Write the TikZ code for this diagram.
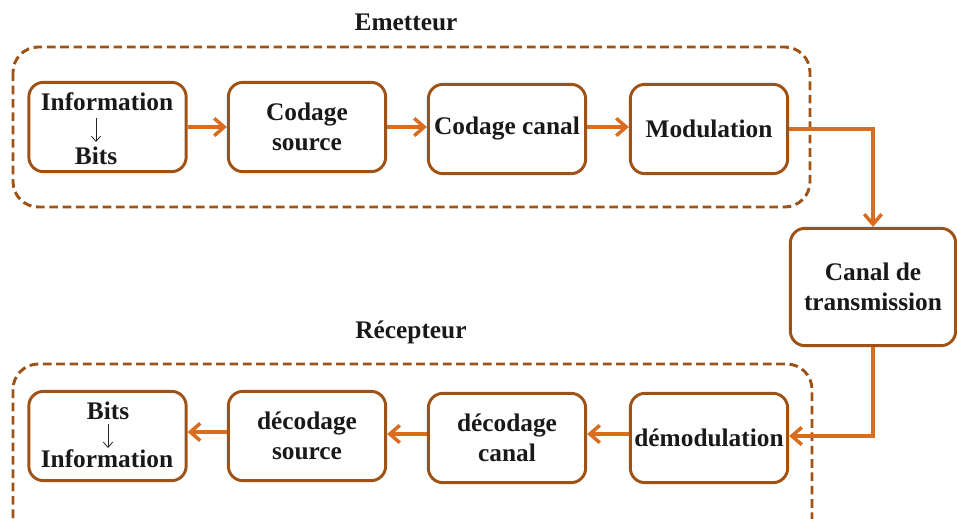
\documentclass[tikz,border=0pt]{standalone}
\usepackage{fontspec}
\setmainfont{Liberation Serif}
\usetikzlibrary{arrows.meta}
\definecolor{boxbrown}{RGB}{158,82,22}
\definecolor{arrorange}{RGB}{218,108,30}
\tikzset{
  blk/.style={draw=boxbrown, line width=2.2pt, rounded corners=11pt, minimum width=118pt, minimum height=67pt, align=center, inner sep=1pt, font=\fontsize{19}{22.5}\selectfont\bfseries, text=black!90},
  grp/.style={draw=boxbrown, line width=2.2pt, dash pattern=on 6.5pt off 3.5pt, rounded corners=19pt},
  flow/.style={draw=arrorange, line width=2.6pt, -{Straight Barb[length=7.5pt,width=13pt,line width=2.6pt]}},
  ttl/.style={font=\fontsize{19}{22.5}\selectfont\bfseries, text=black!90, inner sep=0pt},
  thinarrow/.style={draw=black!85, line width=0.6pt, -{Straight Barb[length=4pt,width=7pt,line width=0.6pt]}}
}
\begin{document}
\begin{tikzpicture}[x=0.75pt,y=-0.75pt]
\useasboundingbox (0,0) rectangle (957,518);
\clip (0,0) rectangle (957,518);
% groups
\draw[grp] (13,47) rectangle (810,207);
\draw[grp] (13,364) rectangle (812,560);
\node[ttl] (em) at (406,22) {Emetteur};
\node[ttl] (re) at (411,332) {Récepteur};
% top row
\node[blk] (info) at (107.5,127) {};
\node[ttl, anchor=base] (infoA) at (107,110) {Information};
\node[ttl, anchor=base] (infoB) at (96,164) {Bits};
\draw[thinarrow] (96,118) -- (96,142);
\node[blk] (cs) at (307,127) {Codage\\source};
\node[blk] (cc) at (507,129) {Codage canal};
\node[blk] (mod) at (709,129) {Modulation};
% channel
\node[blk, minimum width=124pt, minimum height=88pt] (can) at (873,287) {Canal de\\transmission};
% bottom row
\node[blk] (binf) at (107.5,436) {};
\node[ttl, anchor=base] (binfA) at (108,419) {Bits};
\node[ttl, anchor=base] (binfB) at (107,467) {Information};
\draw[thinarrow] (108,424) -- (108,448);
\node[blk] (ds) at (307,436) {décodage\\source};
\node[blk] (dc) at (507,438) {décodage\\canal};
\node[blk] (dm) at (709,438) {démodulation};
% connectors
\draw[flow] (info.east |- 0,127) -- (cs.west |- 0,127);
\draw[flow] (cs.east |- 0,127) -- (cc.west |- 0,127);
\draw[flow] (cc.east |- 0,127) -- (mod.west |- 0,127);
\draw[flow] (mod.east |- 0,129) -| (can.north);
\draw[flow] (can.south) |- (dm.east |- 0,436);
\draw[flow] (dm.west |- 0,434) -- (dc.east |- 0,434);
\draw[flow] (dc.west |- 0,434) -- (ds.east |- 0,434);
\draw[flow] (ds.west |- 0,432) -- (binf.east |- 0,432);
\end{tikzpicture}
\end{document}
